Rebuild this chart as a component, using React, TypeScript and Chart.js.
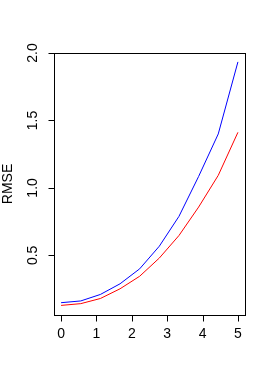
import React, { useEffect, useRef } from "react";
import { Chart, registerables } from "chart.js";

Chart.register(...registerables);

const xValues = [0, 0.556, 1.111, 1.667, 2.222, 2.778, 3.333, 3.889, 4.444, 5];
const blueSeries = [0.149, 0.162, 0.21, 0.289, 0.4, 0.568, 0.789, 1.085, 1.4, 1.934];
const redSeries = [0.129, 0.142, 0.18, 0.252, 0.345, 0.48, 0.647, 0.858, 1.093, 1.412];
const xTicks = [0, 1, 2, 3, 4, 5];
const yTicks = [0.5, 1.0, 1.5, 2.0];
const yLabel = "RMSE";

const FONT = "14px 'Liberation Sans', Arial, sans-serif";

const rAxesPlugin = {
  id: "rAxes",
  afterDraw(chart: any) {
    const ctx = chart.ctx;
    const { left, right, top, bottom } = chart.chartArea;
    const xs = chart.scales.x;
    const ys = chart.scales.y;
    ctx.save();
    ctx.strokeStyle = "#000";
    ctx.lineWidth = 1;
    // box
    ctx.strokeRect(Math.round(left) + 0.5, Math.round(top) + 0.5, Math.round(right - left), Math.round(bottom - top));
    // x axis
    const bx = Math.round(bottom) + 0.5;
    const x0 = Math.round(xs.getPixelForValue(xTicks[0])) + 0.5;
    const x1 = Math.round(xs.getPixelForValue(xTicks[xTicks.length - 1])) + 0.5;
    ctx.beginPath();
    ctx.moveTo(x0, bx);
    ctx.lineTo(x1, bx);
    xTicks.forEach((t) => {
      const px = Math.round(xs.getPixelForValue(t)) + 0.5;
      ctx.moveTo(px, bx);
      ctx.lineTo(px, bx + 6);
    });
    ctx.stroke();
    ctx.fillStyle = "#000";
    ctx.font = FONT;
    ctx.textAlign = "center";
    ctx.textBaseline = "middle";
    xTicks.forEach((t) => {
      ctx.fillText(String(t), xs.getPixelForValue(t), bx + 19);
    });
    // y axis
    const lx = Math.round(left) + 0.5;
    const y0 = Math.round(ys.getPixelForValue(yTicks[0])) + 0.5;
    const y1 = Math.round(ys.getPixelForValue(yTicks[yTicks.length - 1])) + 0.5;
    ctx.beginPath();
    ctx.moveTo(lx, y0);
    ctx.lineTo(lx, y1);
    yTicks.forEach((t) => {
      const py = Math.round(ys.getPixelForValue(t)) + 0.5;
      ctx.moveTo(lx, py);
      ctx.lineTo(lx - 6, py);
    });
    ctx.stroke();
    yTicks.forEach((t) => {
      const py = ys.getPixelForValue(t);
      ctx.save();
      ctx.translate(lx - 21, py);
      ctx.rotate(-Math.PI / 2);
      ctx.fillText(t.toFixed(1), 0, 0);
      ctx.restore();
    });
    ctx.save();
    ctx.translate(8, (top + bottom) / 2);
    ctx.rotate(-Math.PI / 2);
    ctx.fillText(yLabel, 0, 0);
    ctx.restore();
    ctx.restore();
  },
};

export default function App() {
  const ref = useRef<HTMLCanvasElement>(null);
  useEffect(() => {
    const canvas = ref.current!;
    const chart = new Chart(canvas, {
      type: "line",
      data: {
        datasets: [
          {
            data: xValues.map((x, i) => ({ x, y: blueSeries[i] })),
            borderColor: "#0000FF",
            borderWidth: 1,
            pointRadius: 0,
            tension: 0,
          },
          {
            data: xValues.map((x, i) => ({ x, y: redSeries[i] })),
            borderColor: "#FF0000",
            borderWidth: 1,
            pointRadius: 0,
            tension: 0,
          },
        ],
      },
      options: {
        responsive: false,
        animation: false,
        layout: { padding: { left: 54, top: 53, right: 28, bottom: 67 } },
        plugins: { legend: { display: false }, tooltip: { enabled: false } },
        scales: {
          x: { type: "linear", min: -0.2, max: 5.2, display: false },
          y: { type: "linear", min: 0.0578, max: 2.0, display: false },
        },
      },
      plugins: [rAxesPlugin],
    });
    return () => chart.destroy();
  }, []);
  return (
    <div style={{ position: "fixed", left: 0, top: 0, width: 273, height: 382, background: "#fff" }}>
      <canvas ref={ref} width={273} height={382} />
    </div>
  );
}
